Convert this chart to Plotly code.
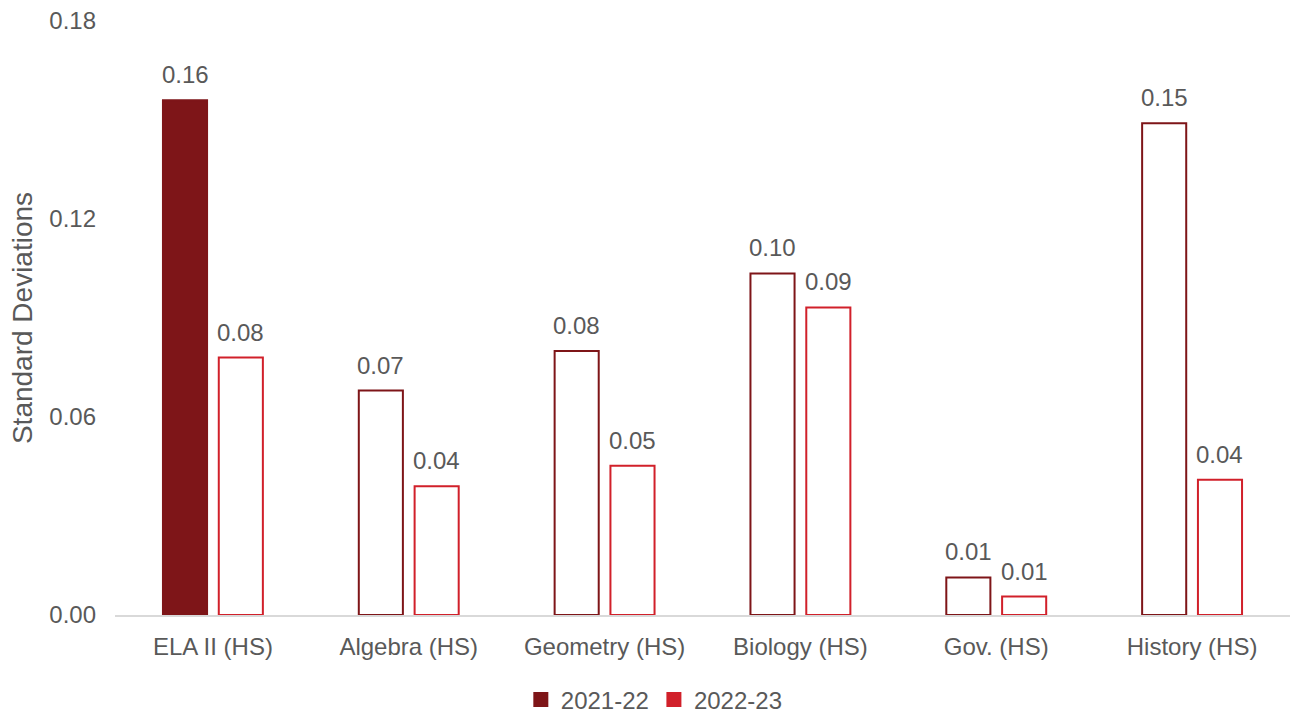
import plotly.graph_objects as go

# Category labels and the two school-year series (in standard deviations)
subjects = ["ELA II (HS)", "Algebra (HS)", "Geometry (HS)", "Biology (HS)", "Gov. (HS)", "History (HS)"]
sd_2021_22 = [0.156, 0.068, 0.080, 0.1035, 0.0114, 0.149]
sd_2022_23 = [0.078, 0.039, 0.0452, 0.0932, 0.0056, 0.041]
series_names = ["2021-22", "2022-23"]
y_ticks = [0.0, 0.06, 0.12, 0.18]

DARK_RED = "#7E1518"
RED = "#D1202A"
TEXT = "#595959"
FONT = "Liberation Sans, Arial, sans-serif"

W, H = 1294, 715
M_L, M_R, M_T, M_B = 115, 4, 21, 100
BARGAP = 0.43
BARGROUPGAP = 0.21

fig = go.Figure()

# 2021-22: only the first bar is filled, the rest are outlined
fill_2021 = [DARK_RED] + ["white"] * (len(subjects) - 1)
fig.add_trace(go.Bar(
    x=subjects, y=sd_2021_22, name=series_names[0], showlegend=False,
    marker=dict(color=fill_2021, line=dict(color=DARK_RED, width=2)),
))
fig.add_trace(go.Bar(
    x=subjects, y=sd_2022_23, name=series_names[1], showlegend=False,
    marker=dict(color="white", line=dict(color=RED, width=2)),
))

# Legend entries shown as solid squares
for name, col in zip(series_names, [DARK_RED, RED]):
    fig.add_trace(go.Scatter(
        x=[None], y=[None], mode="markers", name=name,
        marker=dict(symbol="square", size=15, color=col),
    ))

# Value labels above each bar
plot_w = W - M_L - M_R
slot = plot_w / len(subjects) * (1 - BARGAP) / 2
for series, shift in [(sd_2021_22, -slot / 2), (sd_2022_23, slot / 2)]:
    for cat, v in zip(subjects, series):
        fig.add_annotation(
            x=cat, y=v, text=f"{v:.2f}", showarrow=False,
            xshift=shift, yshift=10, yanchor="bottom",
            font=dict(family=FONT, size=24, color=TEXT),
        )

fig.update_layout(
    width=W, height=H,
    margin=dict(l=M_L, r=M_R, t=M_T, b=M_B, autoexpand=False),
    paper_bgcolor="white", plot_bgcolor="white",
    barmode="group", bargap=BARGAP, bargroupgap=BARGROUPGAP,
    font=dict(family=FONT, size=24, color=TEXT),
    legend=dict(
        orientation="h", x=0.459, xanchor="center",
        yref="container", y=0.021, yanchor="middle",
        font=dict(family=FONT, size=24, color=TEXT), itemwidth=30,
    ),
)
fig.update_xaxes(
    showline=True, linecolor="#D9D9D9", linewidth=2, showgrid=False,
    ticks="", ticklabelstandoff=9,
    tickfont=dict(family=FONT, size=24, color=TEXT),
)
fig.update_yaxes(
    range=[0, 0.18], tickvals=y_ticks, tickformat=".2f",
    showgrid=False, zeroline=False, showline=False, ticks="",
    ticklabelstandoff=18,
    tickfont=dict(family=FONT, size=24, color=TEXT),
    title=dict(text="Standard Deviations", font=dict(family=FONT, size=28, color=TEXT), standoff=8),
)

fig.write_html("out.html")
